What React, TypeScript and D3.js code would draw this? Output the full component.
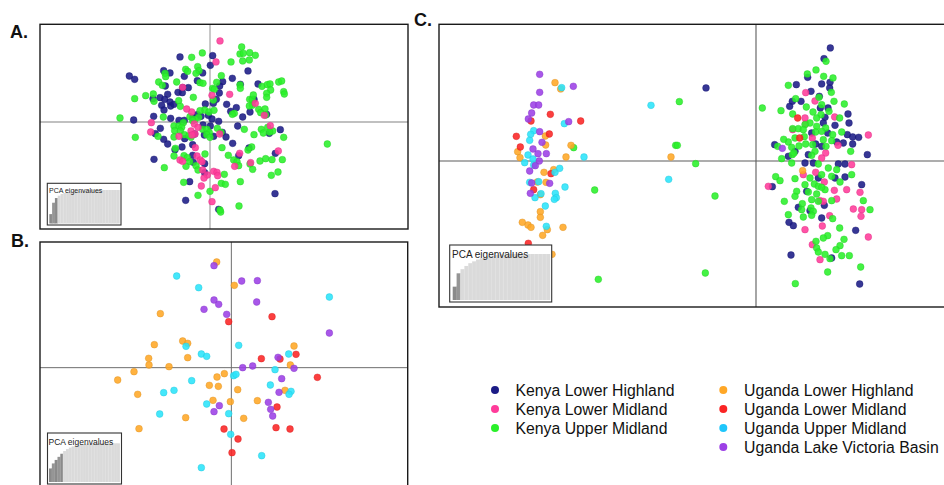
import React from "react";
import * as d3 from "d3";

type Pt = [number, number];

const groupNames = [
  "Kenya Lower Highland",
  "Kenya Lower Midland",
  "Kenya Upper Midland",
  "Uganda Lower Highland",
  "Uganda Lower Midland",
  "Uganda Upper Midland",
  "Uganda Lake Victoria Basin",
];
const pointColors = ["#1b1b86", "#ff3b9a", "#2af02a", "#ffa726", "#fa2424", "#2ae4fa", "#9c40e6"];
const legendColors = ["#1b1b86", "#ff3b9a", "#2af02a", "#ffa726", "#fa2424", "#1fc6fb", "#9c40e6"];

// ---------- Panel A (Kenya) ----------
const aKenyaLowerHighland: Pt[] = [
  [-90,195],[-242,138],[-226,128],[-139,154],[-120,147],[-77,137],[-22,147],[1,170],[8,199],[114,153],[38,121],[67,131],[91,113],[144,114],[-134,108],[-127,83],[-96,89],[-82,103],[-83,88],[-65,103],[-38,124],[-150,73],[-136,68],[-120,60],[-118,48],[-145,50],[-108,53],[-138,36],[-171,70],[-169,17],[-229,6],[-14,54],[10,56],[28,87],[29,108],[19,68],[50,53],[62,32],[79,43],[98,15],[120,30],[132,68],[170,23],[-118,11],[-93,5],[-77,5],[-52,12],[-38,22],[-27,17],[-5,20],[6,9],[-21,-9],[1,-12],[26,2],[83,-12],[-149,-19],[-164,-35],[-139,-52],[-127,-66],[-76,-50],[-46,-36],[-17,-39],[11,-43],[37,-31],[48,-45],[-52,-68],[-84,-75],[-105,-83],[68,-64],[117,-78],[86,-101],[178,-34],[211,-23],[196,-94],[-168,-112],[-50,-121],[-16,-125],[-61,-179],[-73,-235],[26,-262],[195,-215],[-16,-152],[-52,-100],
];
const aKenyaLowerMidland: Pt[] = [
  [30,243],[18,180],[-82,104],[59,83],[6,80],[-55,30],[-70,39],[136,56],[163,20],[181,-11],[-176,-2],[-178,-30],[-47,-6],[-36,-16],[-57,-27],[-45,-36],[-93,-43],[29,-36],[-44,-77],[-39,-102],[-90,-114],[-82,-118],[-29,-114],[-24,-119],[89,-94],[74,-133],[122,-122],[205,-87],[-22,-144],[-8,-159],[11,-148],[21,-151],[23,-161],[-18,-168],[-26,-192],[16,-197],[6,-239],[-54,-39],
];
const aKenyaUpperMidland: Pt[] = [
  [95,225],[90,204],[100,206],[119,208],[136,200],[118,186],[98,183],[-23,207],[-55,194],[63,180],[-37,166],[-33,154],[-73,158],[-67,152],[-42,146],[-135,146],[-133,136],[34,139],[20,119],[8,101],[13,98],[-154,120],[-143,110],[-100,120],[-30,118],[-21,116],[90,111],[91,101],[156,107],[172,112],[180,114],[206,120],[215,123],[221,91],[223,84],[182,96],[170,86],[170,74],[-193,79],[-226,70],[-170,84],[-168,62],[-50,74],[-94,64],[-89,47],[-16,36],[-3,30],[12,35],[10,66],[119,68],[127,68],[130,81],[127,50],[118,48],[146,38],[165,39],[152,28],[167,21],[73,26],[67,23],[-140,15],[-270,12],[-60,16],[-34,14],[-45,8],[-52,4],[-30,34],[-108,-12],[-93,-12],[-80,-2],[-85,-16],[-106,-26],[-89,-27],[-108,-45],[-77,-38],[-63,-41],[-57,-46],[-22,-22],[-9,-22],[-2,-32],[-10,-38],[0,-46],[22,-19],[33,-31],[103,-22],[132,-38],[154,-22],[173,-16],[188,-27],[160,-33],[179,-30],[221,-46],[-224,-46],[-156,-43],[-104,-79],[-108,-102],[-78,-101],[-68,-107],[-61,-119],[-15,-96],[36,-77],[55,-100],[71,-114],[81,-119],[86,-131],[125,-75],[114,-84],[120,-126],[128,-142],[150,-117],[167,-110],[186,-113],[217,-113],[-137,-137],[-72,-133],[-42,-131],[-36,-144],[43,-157],[34,-184],[46,-187],[-79,-181],[-36,-220],[0,-208],[91,-179],[87,-252],[32,-270],[30,-264],[184,-160],[204,-150],[352,-66],
];

// ---------- Panel B (Uganda) ----------
const bUgandaLowerHighland: Pt[] = [
  [-44,317],[9,247],[-213,162],[-146,80],[-131,73],[-231,69],[-248,28],[-247,8],[-187,3],[-131,30],[-292,-12],[-341,-37],[-281,-80],[-277,-183],[-137,-150],[-66,-53],[-43,-28],[-39,-56],[-21,-18],[-55,-98],[-3,-102],[19,-66],[37,-152],[78,-99],[161,-68],[177,8],[188,65],
];
const bUgandaLowerMidland: Pt[] = [
  [-8,138],[122,153],[90,27],[146,26],[194,40],[258,-29],[137,-118],[134,-180],[176,-184],[-22,-184],[20,-214],[2,-255],
];
const bUgandaUpperMidland: Pt[] = [
  [-164,275],[-98,240],[-136,64],[-90,41],[-74,34],[22,67],[172,41],[131,-6],[7,-24],[14,-20],[117,-52],[179,-71],[173,-80],[-119,-39],[-203,-75],[-172,-68],[-215,-139],[-74,-109],[-8,-138],[-2,-200],[91,-264],[-90,-300],[294,212],
];
const bUgandaLakeVictoria: Pt[] = [
  [-52,306],[31,260],[78,261],[76,197],[-52,203],[-38,190],[-82,175],[-14,160],[294,104],[140,31],[34,0],[64,5],[188,-2],[151,-33],[143,-74],[111,-104],[118,-125],[124,-145],[-36,-114],[-52,-132],
];

// ---------- Panel C (Kenya + Uganda) ----------
const cKenyaLowerHighland: Pt[] = [
  [-150,219],[223,339],[204,307],[155,251],[121,229],[197,231],[222,236],[221,219],[165,209],[190,194],[109,179],[135,179],[101,164],[193,159],[216,159],[276,141],[207,131],[202,114],[279,114],[237,107],[274,79],[290,72],[308,71],[262,54],[290,51],[242,57],[167,84],[56,49],[97,14],[334,19],[197,44],[117,29],[157,19],[179,51],[215,84],
  [147,-6],[172,-6],[247,-9],[267,-9],[49,-77],[267,-48],[317,-71],[237,-51],[127,-139],[162,-149],[205,-133],[197,-171],[99,-184],[112,-194],[299,-208],[105,-282],[227,-291],[311,-369],[187,-51],[152,-91],
];
const cKenyaLowerMidland: Pt[] = [
  [149,205],[177,180],[236,132],[149,112],[110,94],[169,69],[337,78],[246,47],[209,24],[197,9],[147,129],
  [37,-76],[142,-41],[179,-34],[205,-63],[235,-88],[272,-86],[312,-94],[192,-119],[242,-114],[292,-144],[317,-146],[315,-166],[147,-206],[199,-195],[221,-164],[337,-228],[169,-251],[192,-296],[202,-121],[287,-11],
];
const cKenyaUpperMidland: Pt[] = [
  [-547,40],[-484,-87],[-473,-355],[-230,178],[-241,47],[-236,47],[-181,-8],[-123,-105],[-152,-336],
  [210,299],[180,273],[154,261],[203,254],[231,249],[97,227],[226,206],[119,187],[234,179],[151,162],[75,151],[110,141],[197,169],[189,191],[265,171],[219,149],[195,139],[171,147],[182,129],[162,114],[147,109],[251,129],[127,97],[110,97],[142,94],[182,104],[209,99],[197,89],[179,87],[145,73],[117,69],[97,57],[83,65],[65,44],[107,41],[129,45],[149,51],[170,49],[202,64],[227,61],[210,44],[257,87],[284,29],[177,29],[77,7],[109,19],[167,17],[114,24],[230,79],[19,159],
  [107,-6],[187,-9],[217,-21],[242,-26],[287,-41],[59,-47],[72,-59],[117,-53],[162,-51],[197,-41],[227,-46],[252,-63],[175,-69],[147,-71],[187,-76],[207,-86],[122,-91],[157,-93],[182,-99],[197,-79],[117,-106],[85,-121],[139,-128],[167,-116],[187,-121],[227,-119],[165,-141],[172,-151],[97,-161],[142,-168],[167,-163],[230,-173],[322,-119],[342,-146],[251,-201],[215,-224],[202,-231],[180,-241],[264,-235],[252,-254],[240,-266],[182,-261],[187,-273],[207,-280],[222,-293],[257,-284],[280,-284],[215,-333],[314,-318],[118,-368],[137,-146],
];
const cUgandaLowerHighland: Pt[] = [
  [-603,235],[-586,216],[-632,75],[-631,48],[-715,28],[-555,47],[-708,10],[-570,12],[-636,-34],[-607,-26],[-656,-63],[-630,-64],[-647,-101],[-647,-152],[-647,-169],[-701,-184],[-684,-192],[-675,-199],[-626,-206],[-579,-199],[-640,-223],[-612,-280],[-255,12],[140,-29],
];
const cUgandaLowerMidland: Pt[] = [
  [-617,140],[-675,120],[-526,120],[-719,74],[-620,81],[-707,42],[-615,-38],[-667,-86],[-683,-247],[125,129],[131,69],
];
const cUgandaUpperMidland: Pt[] = [
  [-583,220],[-575,112],[-667,91],[-676,80],[-679,62],[-684,18],[-669,6],[-516,12],[-694,-5],[-667,-12],[-603,-34],[-589,-22],[-679,-64],[-652,-62],[-573,-78],[-645,-98],[-602,-97],[-599,-110],[-605,-115],[-663,-110],[-632,-135],[-629,-196],[-315,167],[-262,-55],
];
const cUgandaLakeVictoria: Pt[] = [
  [-649,260],[-548,224],[-649,206],[-667,168],[-652,168],[-673,144],[-683,126],[-562,118],[-649,88],[-642,56],[-669,36],[-654,22],[-629,22],[-650,0],[-662,-14],[-679,-30],[-673,-66],[-619,-67],[-677,-97],[79,38],
];

// ---------- Eigenvalue insets ----------
const eigA = [28, 62, 76, 83, 88, 91, 93, 95, 96, 97, 98, 98, 99, 99, 100, 100, 100, 100, 100, 100, 100, 100, 100, 100, 100];
const eigB = [35, 48, 57, 65, 73, 80, 85, 89, 92, 94, 96, 97, 98, 99, 99, 100, 100, 100, 100, 100, 100, 100, 100, 100, 100];
const eigC = [29, 58, 67, 74, 80, 84, 88, 91, 93, 96, 97, 98, 99, 99, 100, 100, 100, 100, 100, 100, 100, 100, 100, 100, 100];

const FONT = "'Liberation Sans', Arial, Helvetica, sans-serif";

type Series = { pts: Pt[]; g: number };

type PanelCfg = {
  label: string;
  labelX: number;
  labelY: number;
  x0: number; x1: number; y0: number; y1: number;
  xDom: [number, number];
  yDom: [number, number];
  axisColor: string;
  axisWidth: number;
  series: Series[];
  inset: {
    x: number; y: number; w: number; h: number;
    bx0: number; bx1: number; by0: number; by1: number;
    eig: number[]; dark: number; fs: number; tx: number; ty: number;
  };
};

const panels: PanelCfg[] = [
  {
    label: "A.", labelX: 10, labelY: 38,
    x0: 40, x1: 408, y0: 24.3, y1: 229,
    xDom: [-510, 594], yDom: [-321, 293],
    axisColor: "#ababab", axisWidth: 1.3,
    series: [
      { pts: aKenyaLowerHighland, g: 0 },
      { pts: aKenyaUpperMidland, g: 2 },
      { pts: aKenyaLowerMidland, g: 1 },
    ],
    inset: { x: 47.3, y: 183.3, w: 73.7, h: 41.7, bx0: 49.3, bx1: 119.5, by0: 190, by1: 223.5, eig: eigA, dark: 3, fs: 7, tx: 49, ty: 193 },
  },
  {
    label: "B.", labelX: 11, labelY: 247,
    x0: 40, x1: 407.7, y0: 242, y1: 491,
    xDom: [-574, 529], yDom: [-370, 377],
    axisColor: "#6e6e6e", axisWidth: 1,
    series: [
      { pts: bUgandaLowerHighland, g: 3 },
      { pts: bUgandaLowerMidland, g: 4 },
      { pts: bUgandaUpperMidland, g: 5 },
      { pts: bUgandaLakeVictoria, g: 6 },
    ],
    inset: { x: 47.5, y: 433, w: 74, h: 51, bx0: 49, bx1: 119.7, by0: 443.3, by1: 482, eig: eigB, dark: 5, fs: 8.5, tx: 48.5, ty: 444.5 },
  },
  {
    label: "C.", labelX: 414, labelY: 26,
    x0: 439, x1: 946, y0: 24.3, y1: 307,
    xDom: [-951, 570], yDom: [-438, 410],
    axisColor: "#5c5c5c", axisWidth: 1.1,
    series: [
      { pts: cKenyaLowerHighland, g: 0 },
      { pts: cKenyaLowerMidland, g: 1 },
      { pts: cKenyaUpperMidland, g: 2 },
      { pts: cUgandaLowerHighland, g: 3 },
      { pts: cUgandaLowerMidland, g: 4 },
      { pts: cUgandaUpperMidland, g: 5 },
      { pts: cUgandaLakeVictoria, g: 6 },
    ],
    inset: { x: 449.7, y: 245, w: 102, h: 57, bx0: 452.7, bx1: 550, by0: 254, by1: 300, eig: eigC, dark: 2, fs: 10, tx: 452, ty: 257.5 },
  },
];

function Inset({ cfg }: { cfg: PanelCfg["inset"] }) {
  const xb = d3.scaleBand<number>().domain(d3.range(cfg.eig.length)).range([cfg.bx0, cfg.bx1]).padding(0);
  const yb = d3.scaleLinear().domain([0, d3.max(cfg.eig) as number]).range([cfg.by1, cfg.by0]);
  return (
    <g>
      <rect x={cfg.x} y={cfg.y} width={cfg.w} height={cfg.h} fill="#fff" stroke="#333" strokeWidth={1.1} />
      {cfg.eig.map((v, i) => (
        <rect
          key={i}
          x={xb(i)}
          y={yb(v)}
          width={xb.bandwidth() + 0.2}
          height={cfg.by1 - yb(v)}
          fill={i < cfg.dark ? (i % 2 === 0 ? "#8a8a8a" : "#959595") : "#dadada"}
          stroke="none"
        />
      ))}
      {cfg.eig.map((v, i) =>
        i > 0 ? (
          <line
            key={`s${i}`}
            x1={xb(i)}
            x2={xb(i)}
            y1={yb(Math.min(v, cfg.eig[i - 1]))}
            y2={cfg.by1}
            stroke={i < cfg.dark ? "#a0a0a0" : "#e3e3e3"}
            strokeWidth={0.5}
          />
        ) : null
      )}
      <text x={cfg.tx} y={cfg.ty} fontFamily={FONT} fontSize={cfg.fs} fill="#222">PCA eigenvalues</text>
    </g>
  );
}

function Panel({ p, idx }: { p: PanelCfg; idx: number }) {
  const xs = d3.scaleLinear().domain(p.xDom).range([p.x0, p.x1]);
  const ys = d3.scaleLinear().domain(p.yDom).range([p.y1, p.y0]);
  const clipId = `clip-${idx}`;
  return (
    <g>
      <defs>
        <clipPath id={clipId}>
          <rect x={p.x0} y={p.y0} width={p.x1 - p.x0} height={p.y1 - p.y0} />
        </clipPath>
      </defs>
      <rect x={p.x0} y={p.y0} width={p.x1 - p.x0} height={p.y1 - p.y0} fill="#fff" stroke="none" />
      <line x1={xs(0)} x2={xs(0)} y1={p.y0} y2={p.y1} stroke={p.axisColor} strokeWidth={p.axisWidth} />
      <line x1={p.x0} x2={p.x1} y1={ys(0)} y2={ys(0)} stroke={p.axisColor} strokeWidth={p.axisWidth} />
      <g clipPath={`url(#${clipId})`}>
        {p.series.map((s, si) =>
          s.pts.map((d, i) => (
            <circle
              key={`${si}-${i}`}
              cx={xs(d[0])}
              cy={ys(d[1])}
              r={3.4}
              fill={pointColors[s.g]}
              fillOpacity={0.88}
              stroke={d3.color(pointColors[s.g])!.darker(0.4).formatHex()}
              strokeOpacity={0.6}
              strokeWidth={0.7}
            />
          ))
        )}
      </g>
      <Inset cfg={p.inset} />
      <rect x={p.x0} y={p.y0} width={p.x1 - p.x0} height={p.y1 - p.y0} fill="none" stroke="#1a1a1a" strokeWidth={1.4} />
      <text x={p.labelX} y={p.labelY} fontFamily={FONT} fontWeight="bold" fontSize={18} fill="#111">{p.label}</text>
    </g>
  );
}

const legendCols = [
  { groups: [0, 1, 2], dotX: 495, textX: 515.5 },
  { groups: [3, 4, 5, 6], dotX: 723.3, textX: 744 },
];

export default function App() {
  const rowY = d3.scaleLinear().domain([0, 1]).range([390, 409]);
  return (
    <svg width={944} height={485} style={{ position: "absolute", left: 0, top: 0, background: "#fff" }}>
      <rect x={0} y={0} width={944} height={485} fill="#fff" />
      {panels.map((p, i) => (
        <Panel key={i} p={p} idx={i} />
      ))}
      {legendCols.map((c, ci) => (
        <g key={ci}>
          {c.groups.map((g, ri) => (
            <g key={g}>
              <circle cx={c.dotX} cy={rowY(ri)} r={4} fill={legendColors[g]} />
              <text x={c.textX} y={rowY(ri) + 6} fontFamily={FONT} fontSize={15.8} fill="#111">{groupNames[g]}</text>
            </g>
          ))}
        </g>
      ))}
    </svg>
  );
}
